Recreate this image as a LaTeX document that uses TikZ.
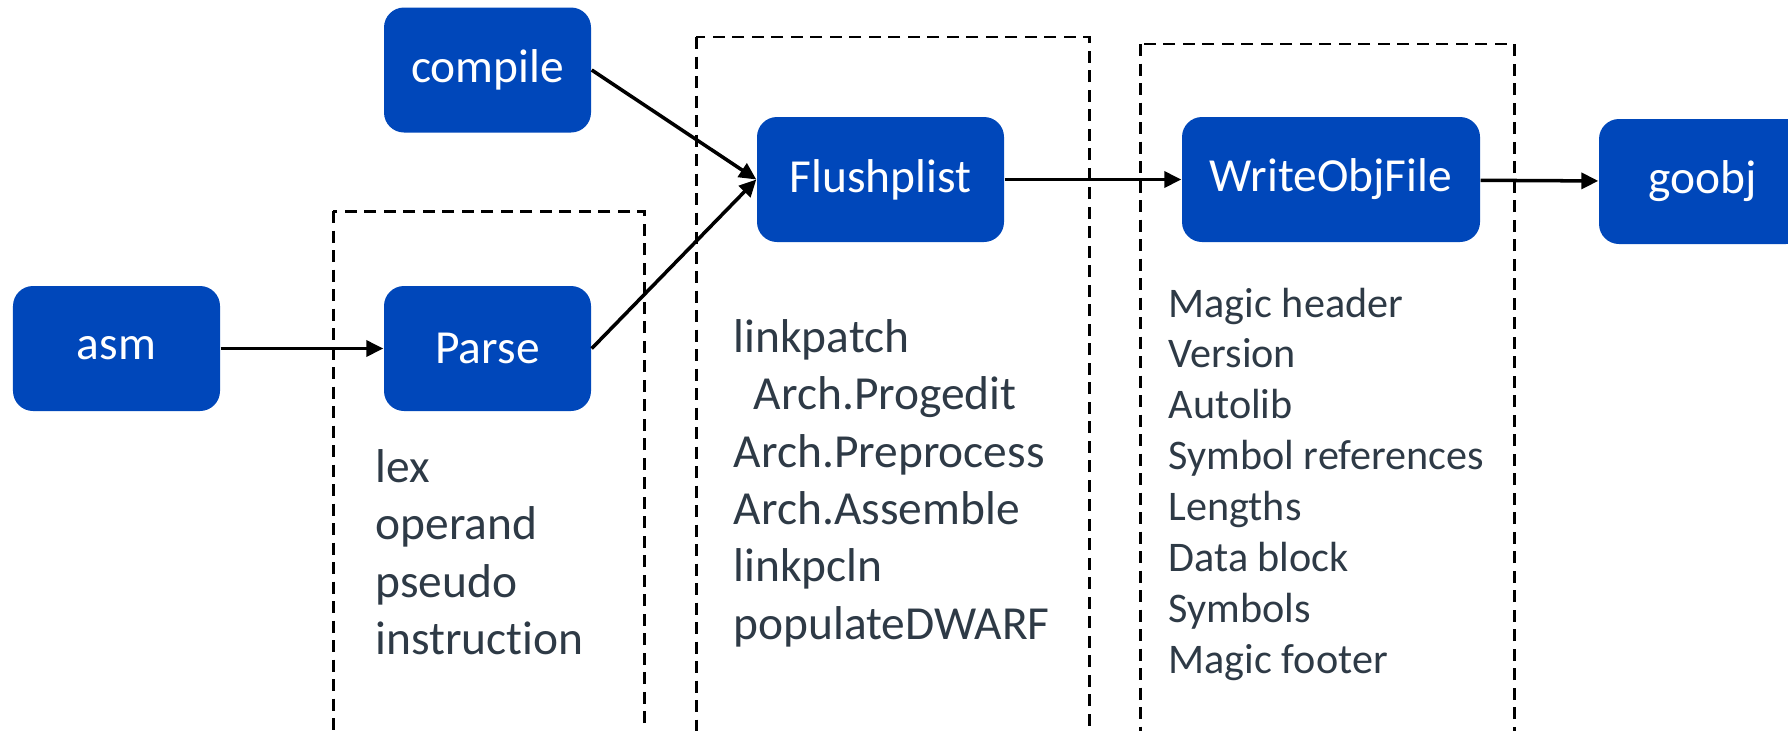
\documentclass[tikz,border=0pt]{standalone}
\usepackage{fontspec}
\setmainfont{Carlito}[Ligatures=NoCommon]
\usetikzlibrary{arrows.meta}
\definecolor{Block}{HTML}{0047BA}
\definecolor{Ink}{HTML}{2E3A46}
\tikzset{stage/.style={fill=Block,rounded corners=0.2cm,minimum width=2.07cm,
    minimum height=1.25cm,inner sep=0pt,text=white,font=\fontsize{13.5}{16}\selectfont},
  frame/.style={draw=black,line width=0.85pt,dash pattern=on 1.2mm off 0.75mm},
  flow/.style={-{Triangle[length=1.7mm,width=1.6mm]},line width=1pt},
  steps/.style={anchor=north west,align=left,inner sep=0pt,text=Ink,
    font=\fontsize{13.5}{16.3}\selectfont},
  fields/.style={steps,font=\fontsize{12}{14.5}\selectfont}}

\begin{document}
\begin{tikzpicture}[x=1cm,y=1cm]
  \useasboundingbox (0,0) rectangle (17.88,-7.30);
  \clip (0,0) rectangle (17.88,-7.30);
  % dashed groups, open at the bottom
  \draw[frame] (3.33,-2.11) rectangle (6.44,-7.6);
  \draw[frame] (6.96,-0.37) rectangle (10.89,-7.6);
  \draw[frame] (11.40,-0.44) rectangle (15.14,-7.6);

  \node[stage] (asm) at (1.165,-3.485) {asm};
  \node[stage] (parse) at (4.875,-3.485) {Parse};
  \node[stage] (compile) at (4.875,-0.70) {compile};
  \node[stage,minimum width=2.47cm] (flush) at (8.805,-1.795) {Flushplist};
  \node[stage,minimum width=2.98cm] (write) at (13.31,-1.795) {WriteObjFile};
  \node[stage] (goobj) at (17.025,-1.815) {goobj};

  \draw[flow] (asm) -- (parse);
  \draw[flow] (compile.east) -- (flush.west);
  \draw[flow] (parse.east) -- (flush.west);
  \draw[flow] (flush) -- (write);
  \draw[flow] (write) -- (goobj);

  \node[steps] (lexing) at (3.75,-4.49) {lex\\operand\\pseudo\\instruction};
  \node[steps] (passes) at (7.33,-3.19) {linkpatch\\\hspace*{2mm}Arch.Progedit\\Arch.Preprocess\\Arch.Assemble\\linkpcln\\populateDWARF};
  \node[fields] (layout) at (11.68,-2.87) {Magic header\\Version\\Autolib\\Symbol references\\Lengths\\Data block\\Symbols\\Magic footer};
\end{tikzpicture}
\end{document}
